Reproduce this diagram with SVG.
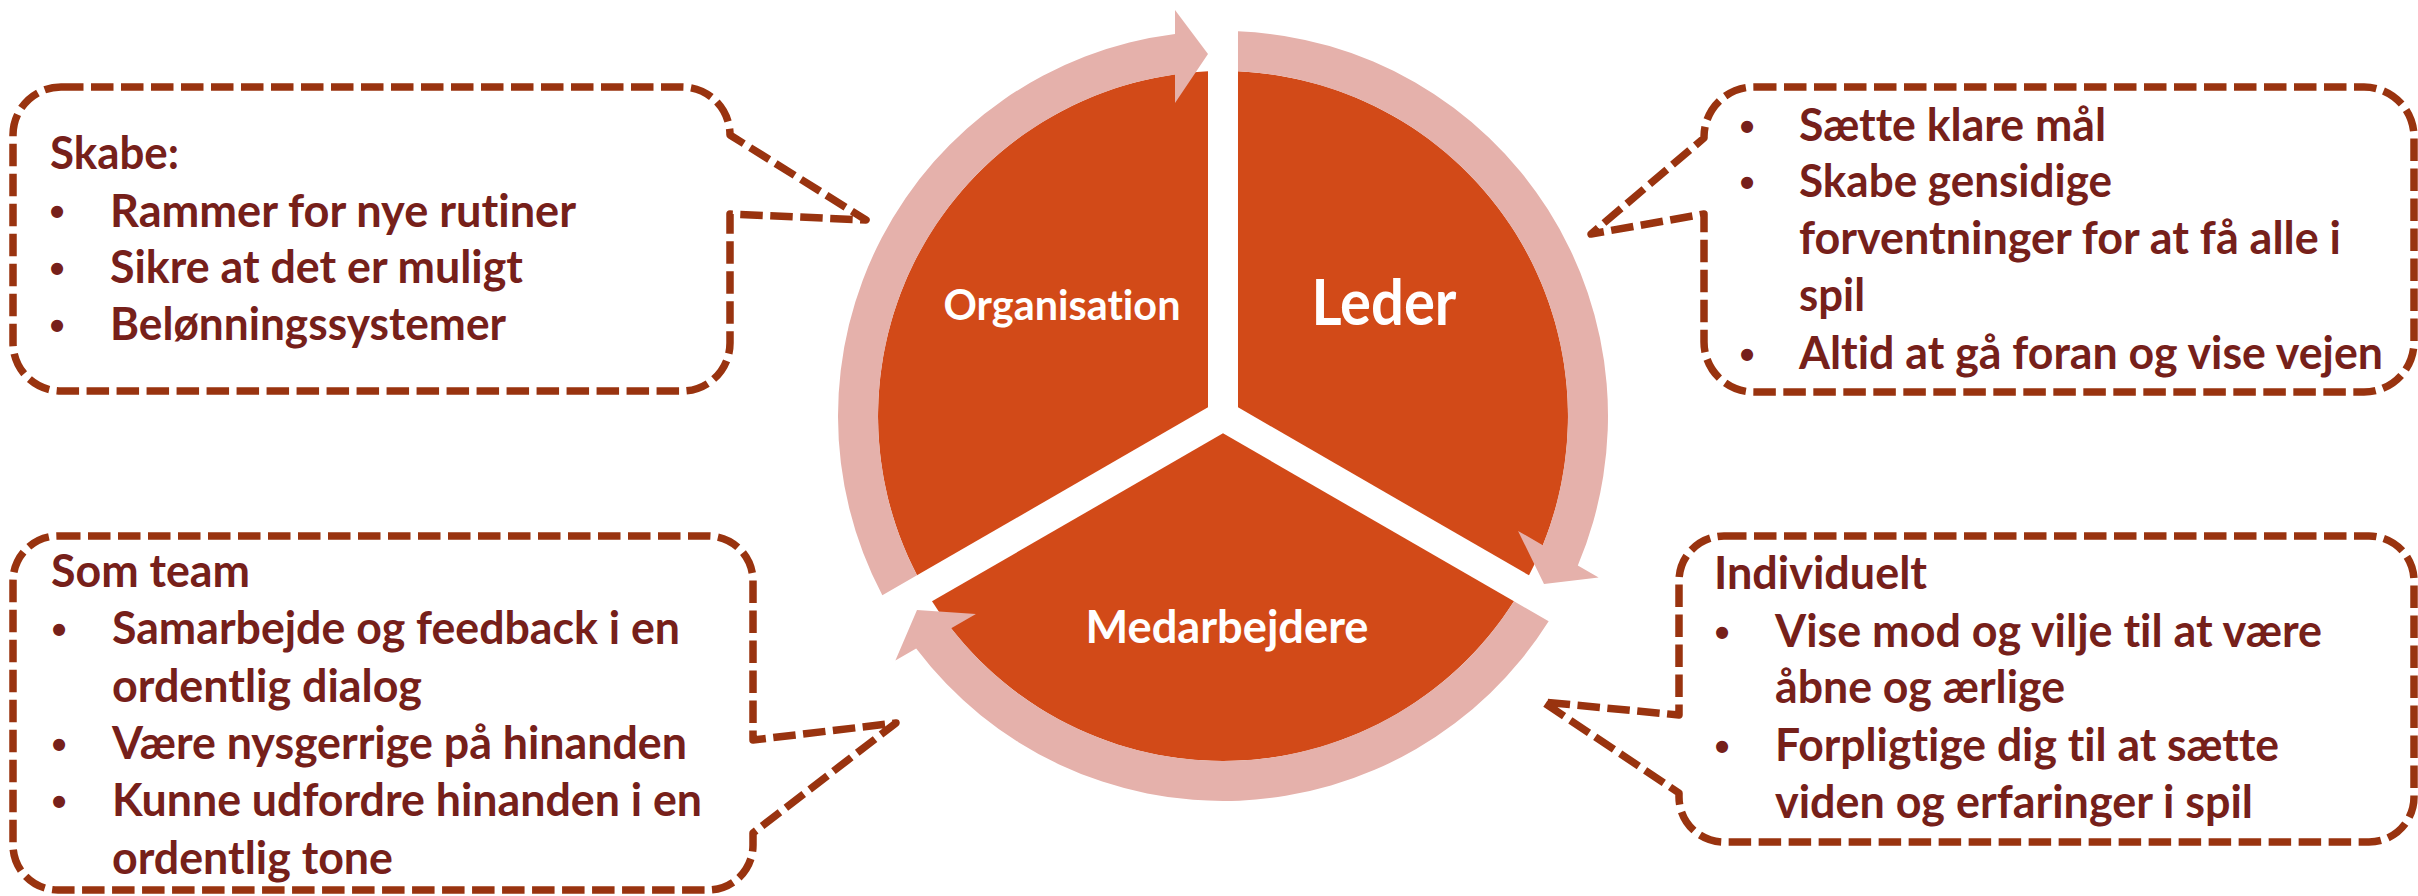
<svg xmlns="http://www.w3.org/2000/svg" width="2418" height="896" viewBox="0 0 2418 896">
  <style>
    .seg { fill: #D24A18; }
    .ring { fill: #E5B1AB; }
    .call { fill: #FFFFFF; stroke: #99330F; stroke-width: 7.5; stroke-dasharray: 22.5 7.5; stroke-linejoin: round; }
    .t { font-family: Lato, "Open Sans", "Liberation Sans", sans-serif; font-weight: 700; font-size: 46px; fill: #76201A; font-variant-ligatures: none; }
    .b { font-family: "Liberation Sans", sans-serif; font-weight: 700; font-size: 42px; fill: #76201A; text-anchor: middle; }
    .lbl { font-family: Lato, "Open Sans", "Liberation Sans", sans-serif; font-weight: 700; fill: #FFFFFF; text-anchor: middle; font-variant-ligatures: none; }
  </style>
  <defs>
    <!-- one pie segment (upper-left), centred on the origin; the others are rotations of it -->
    <path id="segment" d="M -15 -8.66 L -15 -344.67 A 345 345 0 0 0 -305.99 159.35 Z"/>
    <!-- one circular arrow band with its head at the top gap -->
    <path id="cycleArrow" d="M -340.66 179.37 A 385 385 0 0 1 -48 -382 L -48 -406 L -15 -362 L -48 -313 L -48 -341.6 A 345 345 0 0 0 -305.99 159.35 Z"/>
  </defs>

  <rect width="2418" height="896" fill="#FFFFFF"/>

  <!-- pie segments -->
  <g id="node-organisation">
    <use href="#segment" class="seg" transform="translate(1223 416)"/>
    <text class="lbl" x="1062" y="320" font-size="42" textLength="237" lengthAdjust="spacingAndGlyphs">Organisation</text>
  </g>
  <g id="node-leder">
    <use href="#segment" class="seg" transform="translate(1223 416) rotate(120)"/>
    <text class="lbl" x="1384" y="325" font-size="64" textLength="145" lengthAdjust="spacingAndGlyphs">Leder</text>
  </g>
  <g id="node-medarbejdere">
    <use href="#segment" class="seg" transform="translate(1223 416) rotate(240)"/>
    <text class="lbl" x="1227" y="643" font-size="45" textLength="283" lengthAdjust="spacingAndGlyphs">Medarbejdere</text>
  </g>

  <!-- cycle arrows between the segments -->
  <g id="connectors">
    <use href="#cycleArrow" class="ring" transform="translate(1223 416)"/>
    <use href="#cycleArrow" class="ring" transform="translate(1223 416) rotate(120)"/>
    <use href="#cycleArrow" class="ring" transform="translate(1223 416) rotate(240)"/>
  </g>

  <!-- callout: organisation -->
  <g id="callout-skabe">
    <path class="call" d="M 61 87 H 682 A 48 48 0 0 1 730 135 L 866 220 L 730 214 V 343 A 48 48 0 0 1 682 391 H 61 A 48 48 0 0 1 13 343 V 135 A 48 48 0 0 1 61 87 Z"/>
    <text class="t" x="50" y="169" textLength="129" lengthAdjust="spacingAndGlyphs">Skabe:</text>
    <text class="b" x="57" y="226">•</text>
    <text class="t" x="110" y="227" textLength="466" lengthAdjust="spacingAndGlyphs">Rammer for nye rutiner</text>
    <text class="b" x="57" y="283">•</text>
    <text class="t" x="110" y="283" textLength="413" lengthAdjust="spacingAndGlyphs">Sikre at det er muligt</text>
    <text class="b" x="57" y="340">•</text>
    <text class="t" x="110" y="340" textLength="396" lengthAdjust="spacingAndGlyphs">Belønningssystemer</text>
  </g>

  <!-- callout: leder -->
  <g id="callout-leder">
    <path class="call" d="M 1754 87 H 2364 A 50 50 0 0 1 2414 137 V 342 A 50 50 0 0 1 2364 392 H 1754 A 50 50 0 0 1 1704 342 V 214 L 1591 234 L 1704 138 V 137 A 50 50 0 0 1 1754 87 Z"/>
    <text class="b" x="1747" y="141">•</text>
    <text class="t" x="1799" y="141" textLength="307" lengthAdjust="spacingAndGlyphs">Sætte klare mål</text>
    <text class="b" x="1747" y="197">•</text>
    <text class="t" x="1799" y="197" textLength="313" lengthAdjust="spacingAndGlyphs">Skabe gensidige</text>
    <text class="t" x="1799" y="254" textLength="542" lengthAdjust="spacingAndGlyphs">forventninger for at få alle i</text>
    <text class="t" x="1799" y="311" textLength="66" lengthAdjust="spacingAndGlyphs">spil</text>
    <text class="b" x="1747" y="369">•</text>
    <text class="t" x="1799" y="369" textLength="584" lengthAdjust="spacingAndGlyphs">Altid at gå foran og vise vejen</text>
  </g>

  <!-- callout: team -->
  <g id="callout-team">
    <path class="call" d="M 58 536 H 708 A 45 45 0 0 1 753 581 V 740 L 896 723 L 753 833 V 845 A 45 45 0 0 1 708 890 H 58 A 45 45 0 0 1 13 845 V 581 A 45 45 0 0 1 58 536 Z"/>
    <text class="t" x="51" y="587" textLength="199" lengthAdjust="spacingAndGlyphs">Som team</text>
    <text class="b" x="59" y="644">•</text>
    <text class="t" x="112" y="644" textLength="568" lengthAdjust="spacingAndGlyphs">Samarbejde og feedback i en</text>
    <text class="t" x="112" y="702" textLength="310" lengthAdjust="spacingAndGlyphs">ordentlig dialog</text>
    <text class="b" x="59" y="759">•</text>
    <text class="t" x="112" y="759" textLength="575" lengthAdjust="spacingAndGlyphs">Være nysgerrige på hinanden</text>
    <text class="b" x="59" y="816">•</text>
    <text class="t" x="112" y="816" textLength="590" lengthAdjust="spacingAndGlyphs">Kunne udfordre hinanden i en</text>
    <text class="t" x="112" y="874" textLength="281" lengthAdjust="spacingAndGlyphs">ordentlig tone</text>
  </g>

  <!-- callout: individuelt -->
  <g id="callout-individuelt">
    <path class="call" d="M 1724 536 H 2369 A 45 45 0 0 1 2414 581 V 797 A 45 45 0 0 1 2369 842 H 1724 A 45 45 0 0 1 1679 797 V 793 L 1543 702 L 1679 715 V 581 A 45 45 0 0 1 1724 536 Z"/>
    <text class="t" x="1714" y="589" textLength="213" lengthAdjust="spacingAndGlyphs">Individuelt</text>
    <text class="b" x="1722" y="647">•</text>
    <text class="t" x="1775" y="647" textLength="547" lengthAdjust="spacingAndGlyphs">Vise mod og vilje til at være</text>
    <text class="t" x="1775" y="703" textLength="290" lengthAdjust="spacingAndGlyphs">åbne og ærlige</text>
    <text class="b" x="1722" y="761">•</text>
    <text class="t" x="1775" y="761" textLength="504" lengthAdjust="spacingAndGlyphs">Forpligtige dig til at sætte</text>
    <text class="t" x="1775" y="818" textLength="478" lengthAdjust="spacingAndGlyphs">viden og erfaringer i spil</text>
  </g>
</svg>
